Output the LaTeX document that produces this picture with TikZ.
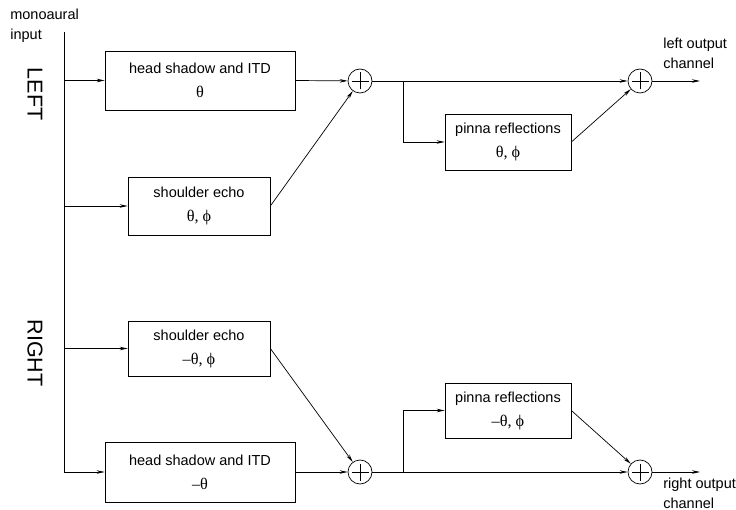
\documentclass[tikz,border=0pt]{standalone}
\usepackage{fontspec}
\setmainfont{Liberation Sans}
\newfontfamily\grk{Liberation Serif}[Scale=1.12]
\usetikzlibrary{arrows.meta}

\tikzset{
  blk/.style={draw, rectangle, align=center, inner sep=0pt,
    font=\fontsize{14.5}{24}\selectfont},
  sum/.style={draw, circle, minimum size=24pt, inner sep=0pt,
    path picture={
      \draw ([xshift=-8.5pt]path picture bounding box.center) -- ([xshift=8.5pt]path picture bounding box.center)
            ([yshift=-8.5pt]path picture bounding box.center) -- ([yshift=8.5pt]path picture bounding box.center);}},
  sig/.style={-{Stealth[length=8pt,width=3.5pt]}},
  lbl/.style={align=left, inner sep=0pt, font=\fontsize{14.5}{20}\selectfont},
  side/.style={rotate=-90, inner sep=0pt, font=\fontsize{21.5}{24}\selectfont},
}

\begin{document}
\begin{tikzpicture}[x=1pt, y=-1pt, line width=0.7pt]
\useasboundingbox (0,0) rectangle (736,510);

\node[lbl, anchor=west] (mono) at (10,26) {monoaural\\input};
\node[side] (leftlbl) at (35,94) {LEFT};
\node[side] (rightlbl) at (35,353) {RIGHT};

\coordinate (bustop) at (64,32);
\coordinate (busbot) at (64,472);
\draw (bustop) -- (busbot);

% left ear
\node[blk, minimum width=190pt, minimum height=59pt] (hsL) at (200,80.5) {head shadow and ITD\\{\grk θ}};
\node[blk, minimum width=142pt, minimum height=58pt] (seL) at (199,206) {shoulder echo\\{\grk θ, ϕ}};
\node[sum] (sumL1) at (360,81) {};
\node[blk, minimum width=126pt, minimum height=56pt] (pL) at (508,142) {pinna reflections\\{\grk θ, ϕ}};
\node[sum] (sumL2) at (640,81) {};
\coordinate (splitL) at (403,81);
\coordinate (outL) at (700,81);
\node[lbl, anchor=west] (outLlbl) at (663,53) {left output\\channel};

\draw[sig] (hsL.west -| bustop) -- (hsL.west);
\draw[sig] (seL.west -| bustop) -- (seL.west);
\draw[sig] (hsL.east) -- (sumL1);
\draw[sig] (seL.east) -- (sumL1);
\draw[sig] (sumL1) -- (sumL2);
\draw[sig] (splitL) |- (pL.west);
\draw[sig] (pL.east) -- (sumL2);
\draw[sig] (sumL2) -- (outL);

% right ear
\node[blk, minimum width=142pt, minimum height=55pt] (seR) at (199,348.5) {shoulder echo\\{\grk –θ, ϕ}};
\node[blk, minimum width=190pt, minimum height=60pt] (hsR) at (200,472) {head shadow and ITD\\{\grk –θ}};
\node[sum] (sumR1) at (360,472) {};
\node[blk, minimum width=126pt, minimum height=55pt] (pR) at (508,410.5) {pinna reflections\\{\grk –θ, ϕ}};
\node[sum] (sumR2) at (640,472) {};
\coordinate (splitR) at (403,472);
\coordinate (outR) at (700,472);
\node[lbl, anchor=west] (outRlbl) at (663,493) {right output\\channel};

\draw[sig] (seR.west -| bustop) -- (seR.west);
\draw[sig] (hsR.west -| bustop) -- (hsR.west);
\draw[sig] (seR.east) -- (sumR1);
\draw[sig] (hsR.east) -- (sumR1);
\draw[sig] (sumR1) -- (sumR2);
\draw[sig] (splitR) |- (pR.west);
\draw[sig] (pR.east) -- (sumR2);
\draw[sig] (sumR2) -- (outR);
\end{tikzpicture}
\end{document}
